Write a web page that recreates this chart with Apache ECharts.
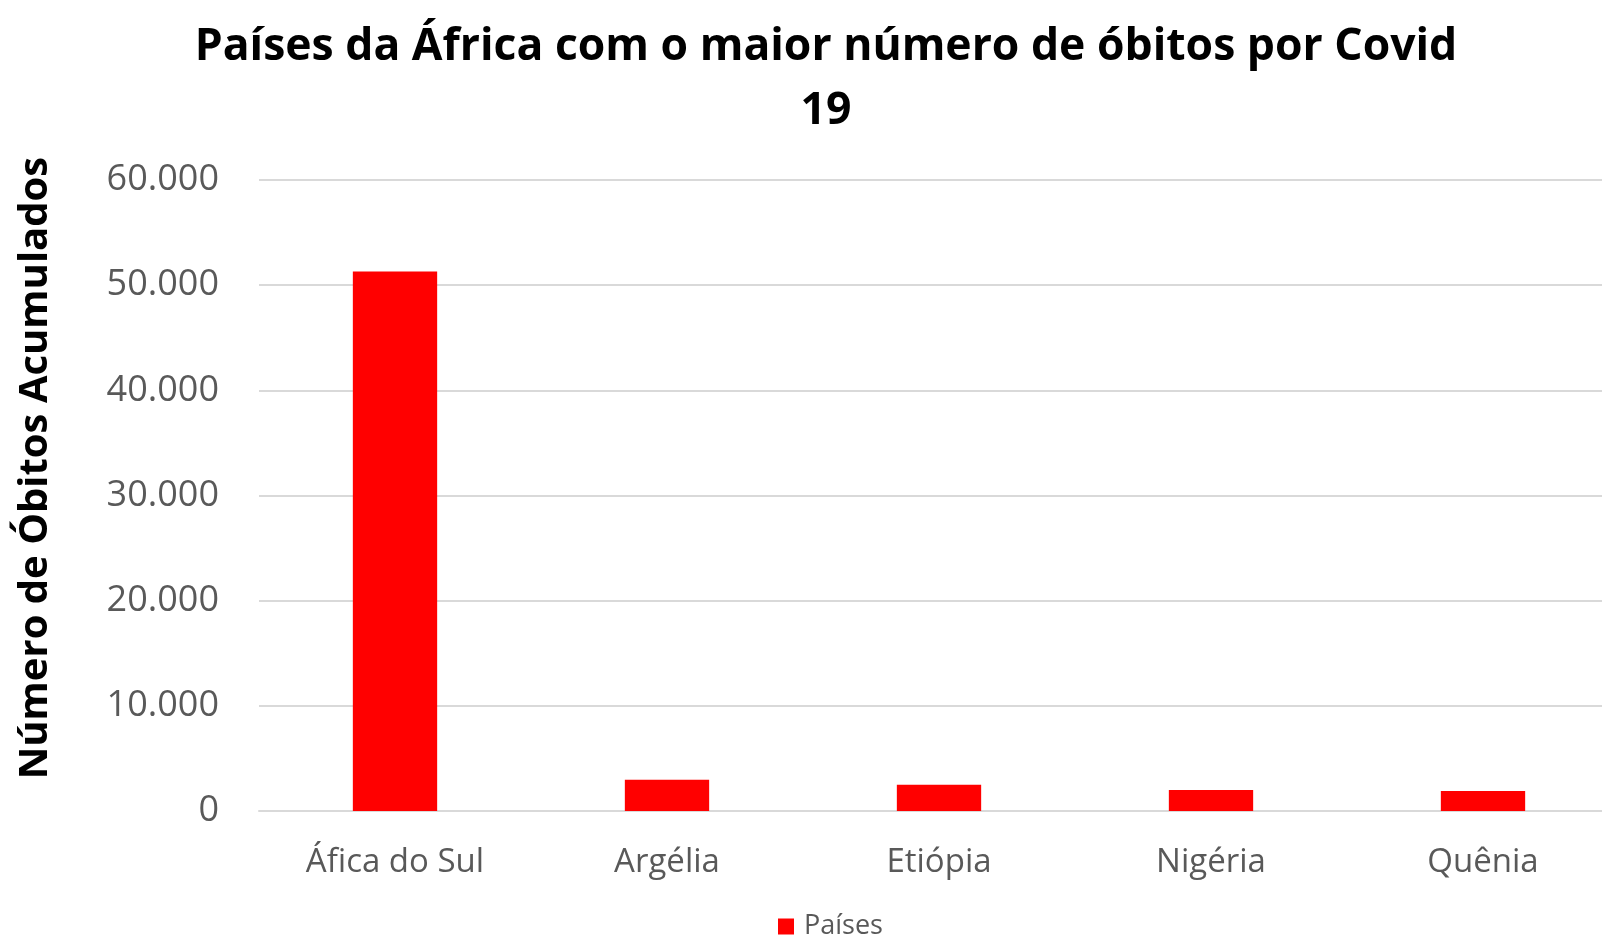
<!DOCTYPE html>
<html>
<head>
<meta charset="utf-8">
<script src="https://cdn.jsdelivr.net/npm/echarts@6/dist/echarts.min.js"></script>
<style>html,body{margin:0;padding:0;background:#fff;overflow:hidden;width:1602px;height:936px;}#c{width:1640px;height:936px;}</style>
</head>
<body>
<div id="c"></div>
<script>
const categories = ["Áfica do Sul", "Argélia", "Etiópia", "Nigéria", "Quênia"];
const seriesName = "Países";
const values = [51300, 2970, 2500, 1990, 1900];
const yTicks = [0, 10000, 20000, 30000, 40000, 50000, 60000];
const titleText = "Países da África com o maior número de óbitos por Covid\n19";
const yAxisTitle = "Número de Óbitos Acumulados";

const FONT = "'Open Sans', 'Noto Sans', sans-serif";
const chart = echarts.init(document.getElementById('c'));
chart.setOption({
  animation: false,
  backgroundColor: '#ffffff',
  title: {
    text: titleText,
    left: 821, top: 10, textAlign: 'center',
    textStyle: { fontFamily: FONT, fontWeight: 'bold', fontSize: 44.5, color: '#000', lineHeight: 64 }
  },
  legend: {
    data: [seriesName], left: 773, top: 908,
    itemWidth: 16, itemHeight: 16, itemGap: 8, icon: 'rect',
    textStyle: { fontFamily: FONT, fontSize: 27, color: '#595959', padding: [0, 0, 0, 5] }
  },
  graphic: [{
    type: 'text', x: 36, y: 468, rotation: Math.PI / 2,
    style: { text: yAxisTitle, fontFamily: FONT, fontWeight: 'bold', fontSize: 40, fill: '#000',
      align: 'center', verticalAlign: 'middle' }
  }],
  grid: { left: 259, top: 180, width: 1360, height: 631 },
  xAxis: {
    type: 'category', data: categories,
    axisLine: { lineStyle: { color: '#d9d9d9', width: 2 } },
    axisTick: { show: false },
    axisLabel: { fontFamily: FONT, fontSize: 33, color: '#595959', margin: 35 }
  },
  yAxis: {
    type: 'value', min: yTicks[0], max: yTicks[yTicks.length - 1], interval: 10000,
    axisLine: { show: false }, axisTick: { show: false },
    splitLine: { lineStyle: { color: '#d9d9d9', width: 2 } },
    axisLabel: {
      fontFamily: FONT, fontSize: 36, color: '#595959', margin: 40,
      formatter: v => v === 0 ? '0' : v.toLocaleString('de-DE')
    }
  },
  series: [{
    name: seriesName, type: 'bar', data: values, barWidth: '31%',
    itemStyle: { color: '#ff0000' }
  }]
});
</script>
</body>
</html>
